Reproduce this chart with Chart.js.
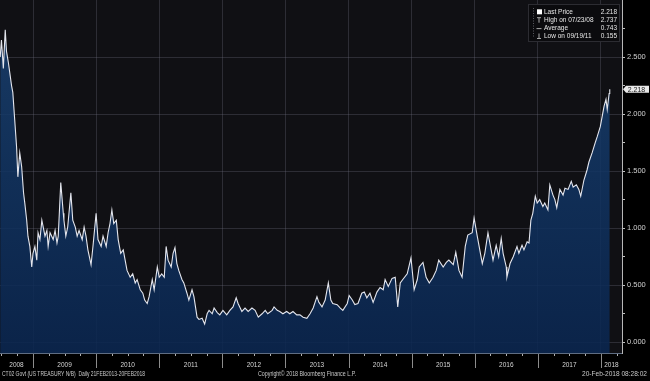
<!DOCTYPE html>
<html><head><meta charset="utf-8">
<script src="https://cdn.jsdelivr.net/npm/chart.js@4/dist/chart.umd.min.js"></script>
<style>html,body{margin:0;padding:0;background:#000;}canvas{display:block}</style>
</head><body>
<canvas id="c" width="650" height="381"></canvas>
<script>
// Fractional-year dates of the readings (2-year US Treasury yield, %)
const dates = [
2008.48,2008.50,2008.53,2008.56,2008.58,2008.61,2008.64,2008.66,2008.68,2008.71,
2008.74,2008.76,2008.79,2008.82,2008.85,2008.87,2008.90,2008.92,2008.95,2008.98,
2009.00,2009.03,2009.06,2009.08,2009.11,2009.14,2009.19,2009.22,2009.24,2009.27,
2009.32,2009.35,2009.38,2009.40,2009.44,2009.48,2009.49,2009.52,2009.55,2009.60,
2009.63,2009.67,2009.70,2009.73,2009.78,2009.81,2009.84,2009.87,2009.92,2009.95,
2010.00,2010.03,2010.08,2010.11,2010.16,2010.19,2010.22,2010.25,2010.28,2010.32,
2010.35,2010.39,2010.43,2010.46,2010.49,2010.54,2010.58,2010.62,2010.65,2010.70,
2010.74,2010.77,2010.81,2010.84,2010.89,2010.92,2010.97,2011.00,2011.04,2011.08,
2011.11,2011.14,2011.19,2011.22,2011.25,2011.28,2011.31,2011.36,2011.39,2011.44,
2011.47,2011.52,2011.55,2011.60,2011.63,2011.68,2011.72,2011.76,2011.79,2011.84,
2011.87,2011.92,2011.96,2012.01,2012.07,2012.12,2012.17,2012.22,2012.25,2012.31,
2012.36,2012.41,2012.47,2012.52,2012.57,2012.63,2012.68,2012.72,2012.79,2012.82,
2012.87,2012.91,2012.96,2013.02,2013.07,2013.12,2013.18,2013.23,2013.28,2013.34,
2013.39,2013.44,2013.50,2013.53,2013.58,2013.63,2013.68,2013.72,2013.75,2013.82,
2013.87,2013.91,2013.98,2014.01,2014.06,2014.10,2014.15,2014.21,2014.25,2014.29,
2014.34,2014.39,2014.45,2014.50,2014.55,2014.58,2014.63,2014.69,2014.74,2014.78,
2014.82,2014.86,2014.93,2014.99,2015.04,2015.09,2015.12,2015.18,2015.23,2015.28,
2015.34,2015.39,2015.43,2015.50,2015.55,2015.59,2015.66,2015.70,2015.75,2015.80,
2015.85,2015.89,2015.96,2015.99,2016.04,2016.07,2016.12,2016.16,2016.21,2016.26,
2016.29,2016.34,2016.38,2016.42,2016.45,2016.50,2016.51,2016.56,2016.61,2016.67,
2016.70,2016.75,2016.78,2016.83,2016.86,2016.89,2016.92,2016.96,2016.99,2017.03,
2017.08,2017.11,2017.16,2017.19,2017.24,2017.27,2017.30,2017.35,2017.40,2017.43,
2017.48,2017.53,2017.56,2017.61,2017.65,2017.68,2017.73,2017.78,2017.81,2017.86,
2017.91,2017.94,2017.99,2018.02,2018.05,2018.08,2018.10,2018.13,2018.14
];
const yields = [
2.50,2.65,2.40,2.74,2.55,2.45,2.33,2.25,2.19,1.95,
1.71,1.45,1.66,1.54,1.31,1.22,1.07,0.93,0.84,0.66,
0.78,0.84,0.72,0.96,0.90,1.07,0.93,0.98,0.84,0.96,
0.90,0.98,0.87,0.93,1.40,1.13,1.07,0.93,1.01,1.31,
1.07,1.01,0.93,0.98,0.90,1.01,0.93,0.81,0.68,0.84,
1.13,0.90,0.84,0.93,0.84,0.96,1.04,1.16,1.04,1.07,
0.90,0.78,0.81,0.72,0.63,0.57,0.60,0.52,0.55,0.46,
0.43,0.37,0.34,0.40,0.55,0.46,0.66,0.57,0.60,0.57,
0.84,0.72,0.66,0.78,0.83,0.69,0.63,0.55,0.52,0.43,
0.37,0.46,0.40,0.22,0.20,0.21,0.16,0.25,0.28,0.25,
0.30,0.26,0.24,0.28,0.24,0.28,0.31,0.39,0.34,0.27,
0.30,0.27,0.30,0.28,0.22,0.25,0.28,0.25,0.28,0.31,
0.28,0.27,0.25,0.27,0.25,0.27,0.24,0.24,0.22,0.21,
0.25,0.30,0.40,0.35,0.31,0.37,0.52,0.37,0.34,0.33,
0.30,0.28,0.34,0.41,0.37,0.33,0.34,0.43,0.44,0.39,
0.43,0.35,0.44,0.48,0.46,0.55,0.49,0.56,0.57,0.31,
0.52,0.55,0.60,0.74,0.46,0.55,0.66,0.70,0.57,0.52,
0.57,0.63,0.72,0.66,0.70,0.72,0.68,0.79,0.63,0.57,
0.84,0.94,0.96,1.09,0.93,0.84,0.69,0.78,0.96,0.81,
0.72,0.85,0.75,0.91,0.78,0.66,0.57,0.69,0.75,0.84,
0.78,0.85,0.81,0.88,0.87,1.07,1.13,1.28,1.22,1.25,
1.19,1.22,1.16,1.38,1.29,1.25,1.18,1.34,1.29,1.35,
1.34,1.41,1.36,1.38,1.34,1.28,1.42,1.51,1.58,1.66,
1.75,1.80,1.89,1.98,2.07,2.13,2.04,2.18,2.218
];
const yearLabels = ['2008','2009','2010','2011','2012','2013','2014','2015','2016','2017','2018'];
const yearStarts = [2009,2010,2011,2012,2013,2014,2015,2016,2017,2018];
const yTickValues = [0,0.25,0.5,0.75,1,1.25,1.5,1.75,2,2.25,2.5,2.75];
const legendLabels = ['Last Price','High on 07/23/08','Average','Low on 09/19/11'];
const legendValues = ['2.218','2.737','0.743','0.155'];
const lastPriceLabel = '2.218';
const footerLeft = 'CT02 Govt (US TREASURY N/B)  Daily 21FEB2013-20FEB2018';
const footerCenter = 'Copyright\u00A9 2018 Bloomberg Finance L.P.';
const footerRight = '20-Feb-2018 08:28:02';

const X_MIN = 2008.477, X_MAX = 2018.334, Y_MIN = -0.094, Y_MAX = 3.0;
const FONT = '"Liberation Sans", Arial, sans-serif';

function fitText(ctx, text, x, y, width, align) {
  const w = ctx.measureText(text).width;
  const sx = Math.min(1.2, width / w);
  ctx.save();
  ctx.textAlign = 'left';
  let x0 = x;
  if (align === 'right') x0 = x - w * sx;
  else if (align === 'center') x0 = x - w * sx / 2;
  ctx.translate(x0, y);
  ctx.scale(sx, 1);
  ctx.fillText(text, 0, 0);
  ctx.restore();
}

const plotBg = {
  id: 'plotBg',
  beforeDraw(chart) {
    const { ctx, chartArea: a } = chart;
    ctx.save();
    ctx.fillStyle = '#000';
    ctx.fillRect(0, 0, chart.width, chart.height);
    ctx.fillStyle = '#101014';
    ctx.fillRect(a.left, a.top, a.right - a.left, a.bottom - a.top);
    ctx.restore();
  }
};

const decorations = {
  id: 'decorations',
  afterDraw(chart) {
    const { ctx, chartArea: a } = chart;
    const xs = chart.scales.x, ys = chart.scales.y;
    const yb = a.bottom;
    ctx.save();
    // bottom axis line
    ctx.strokeStyle = '#5f6d82';
    ctx.lineWidth = 1;
    ctx.beginPath(); ctx.moveTo(a.left, yb + 0.5); ctx.lineTo(a.right, yb + 0.5); ctx.stroke();
    // quarter ticks
    ctx.strokeStyle = '#b0b0b0';
    for (let y = 2008; y <= 2018; y++) {
      [0.25, 0.5, 0.75].forEach(q => {
        const v = y + q;
        if (v < X_MIN || v > X_MAX) return;
        const px = Math.round(xs.getPixelForValue(v)) + 0.5;
        ctx.beginPath(); ctx.moveTo(px, yb + 1); ctx.lineTo(px, yb + 3); ctx.stroke();
      });
    }
    // year separators
    ctx.strokeStyle = '#8c8c8c';
    yearStarts.forEach(v => {
      const px = Math.round(xs.getPixelForValue(v)) + 0.5;
      ctx.beginPath(); ctx.moveTo(px, yb + 1); ctx.lineTo(px, yb + 15); ctx.stroke();
    });
    // year labels
    ctx.fillStyle = '#d4d4d4';
    ctx.font = '6.5px ' + FONT;
    ctx.textBaseline = 'middle';
    const bounds = [X_MIN, ...yearStarts, X_MAX];
    yearLabels.forEach((lab, i) => {
      const mid = (xs.getPixelForValue(bounds[i]) + xs.getPixelForValue(bounds[i + 1])) / 2;
      ctx.textAlign = 'center';
      ctx.fillText(lab, mid, yb + 12.5);
    });
    // footer
    ctx.fillStyle = '#c8c8c8';
    ctx.font = '6.5px ' + FONT;
    fitText(ctx, footerLeft, 2, 374, 143, 'left');
    fitText(ctx, footerCenter, 307, 374, 98, 'center');
    fitText(ctx, footerRight, 647, 374, 65, 'right');

    // last price marker on the axis
    const last = yields[yields.length - 1];
    const py = ys.getPixelForValue(last);
    ctx.fillStyle = '#e8e8e8';
    ctx.beginPath();
    ctx.moveTo(a.right + 1, py);
    ctx.lineTo(a.right + 4, py - 3.5);
    ctx.lineTo(649, py - 3.5);
    ctx.lineTo(649, py + 3.5);
    ctx.lineTo(a.right + 4, py + 3.5);
    ctx.closePath(); ctx.fill();
    ctx.fillStyle = '#1a1a1a';
    ctx.font = '7px ' + FONT;
    ctx.textAlign = 'center';
    ctx.fillText(lastPriceLabel, 636.5, py + 0.5);

    // legend box
    const lx = 528, ly = 4, lw = 92, lh = 38;
    ctx.fillStyle = '#0b0b0e';
    ctx.fillRect(lx, ly, lw, lh);
    ctx.strokeStyle = '#2c2c32';
    ctx.strokeRect(lx + 0.5, ly + 0.5, lw - 1, lh - 1);
    // dotted connector
    ctx.strokeStyle = '#5a5a60';
    ctx.setLineDash([1, 1.5]);
    ctx.beginPath(); ctx.moveTo(533.5, 8); ctx.lineTo(533.5, 38); ctx.stroke();
    ctx.setLineDash([]);
    const rowsY = [12.3, 20.2, 28.1, 36];
    // icons
    ctx.fillStyle = '#ffffff';
    ctx.fillRect(537, rowsY[0] - 3, 5, 5);
    ctx.strokeStyle = '#a8a8a8';
    ctx.beginPath();
    ctx.moveTo(537, rowsY[1] - 2.5); ctx.lineTo(541, rowsY[1] - 2.5);
    ctx.moveTo(539, rowsY[1] - 2.5); ctx.lineTo(539, rowsY[1] + 2.5);
    ctx.moveTo(536.5, rowsY[2] + 0.5); ctx.lineTo(541.5, rowsY[2] + 0.5);
    ctx.moveTo(539, rowsY[3] - 2.5); ctx.lineTo(539, rowsY[3] + 2.5);
    ctx.moveTo(537, rowsY[3] + 2.5); ctx.lineTo(541, rowsY[3] + 2.5);
    ctx.stroke();
    ctx.font = '6.5px ' + FONT;
    ctx.textBaseline = 'middle';
    legendLabels.forEach((t, i) => {
      ctx.fillStyle = '#e6e6e6';
      ctx.textAlign = 'left';
      ctx.fillText(t, 544, rowsY[i]);
      ctx.textAlign = 'right';
      ctx.fillText(legendValues[i], 617, rowsY[i]);
    });
    ctx.restore();
  }
};

const ctx = document.getElementById('c').getContext('2d');
new Chart(ctx, {
  type: 'line',
  data: {
    datasets: [{
      data: dates.map((d, i) => ({ x: d, y: yields[i] })),
      borderColor: '#e4e6ee',
      borderWidth: 1.1,
      pointRadius: 0,
      tension: 0,
      fill: 'start',
      backgroundColor: (c) => {
        const ch = c.chart, a = ch.chartArea;
        if (!a) return 'rgba(16,48,90,0.85)';
        const g = ch.ctx.createLinearGradient(0, a.top, 0, a.bottom);
        g.addColorStop(0, 'rgba(26,66,114,0.86)');
        g.addColorStop(0.5, 'rgba(17,52,98,0.86)');
        g.addColorStop(1, 'rgba(10,38,80,0.88)');
        return g;
      }
    }]
  },
  options: {
    responsive: false,
    animation: false,
    devicePixelRatio: 1,
    layout: { padding: { left: 0, top: 0, right: 0, bottom: 28 } },
    plugins: { legend: { display: false }, tooltip: { enabled: false } },
    scales: {
      x: {
        type: 'linear',
        min: X_MIN, max: X_MAX,
        afterBuildTicks: (s) => { s.ticks = yearStarts.map(v => ({ value: v })); },
        afterFit: (s) => { s.height = 0; s.paddingLeft = 0; s.paddingRight = 0; },
        ticks: { display: false },
        grid: { color: 'rgba(110,110,125,0.32)', lineWidth: 1, drawTicks: false },
        border: { display: false }
      },
      y: {
        position: 'right',
        min: Y_MIN, max: Y_MAX,
        afterBuildTicks: (s) => { s.ticks = yTickValues.map(v => ({ value: v })); },
        afterFit: (s) => { s.width = 28; s.paddingTop = 0; s.paddingBottom = 0; },
        ticks: {
          color: '#d0d0d0',
          font: { size: 7.5, family: FONT },
          padding: 2,
          callback: (v) => (Math.abs(v * 2 - Math.round(v * 2)) < 1e-6 ? v.toFixed(3) : '')
        },
        grid: {
          color: (c) => (c.tick && Math.abs(c.tick.value * 2 - Math.round(c.tick.value * 2)) < 1e-6 ? 'rgba(110,110,125,0.32)' : 'rgba(0,0,0,0)'),
          tickColor: '#c0c0c0',
          tickLength: 3,
          lineWidth: 1
        },
        border: { display: true, color: '#b8b8b8', width: 1 }
      }
    }
  },
  plugins: [plotBg, decorations]
});
</script>
</body></html>
